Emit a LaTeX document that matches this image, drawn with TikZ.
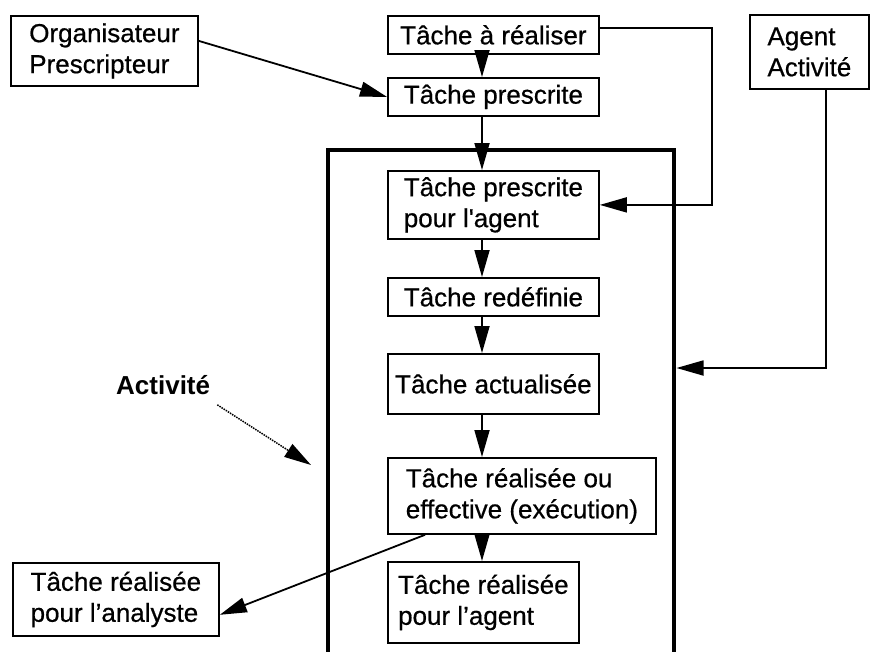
\documentclass[tikz,border=0pt]{standalone}
\usepackage{fontspec}
\setmainfont{Liberation Sans}
\newfontfamily\scanfont{Liberation Sans}[FakeBold=0.6]
\usetikzlibrary{arrows.meta,calc}
\begin{document}
\begin{tikzpicture}[x=1pt,y=1pt,
  txt/.style={font=\scanfont\fontsize{26}{31}\selectfont},
  box/.style={txt,draw,line width=1.8pt,anchor=north west,align=left,inner xsep=5pt,inner ysep=0pt},
  arr/.style={line width=1.8pt,-{Triangle[length=27pt,width=15pt]}},
  dotarr/.style={line width=1.5pt,densely dotted,-{Triangle[length=27pt,width=15pt]}},
  frame/.style={line width=4.5pt}
]
\useasboundingbox (0,0) rectangle (870,-651);
\fill[white] (0,0) rectangle (870,-651);

\node[box,minimum width=187pt,minimum height=70pt] (org) at (10,-15) {Organisateur\\Prescripteur};
\node[box,minimum width=211pt,minimum height=38pt] (tar) at (387,-15) {Tâche à réaliser};
\node[box,minimum width=211pt,minimum height=38pt] (tp) at (387,-77) {Tâche prescrite};
\node[box,minimum width=211pt,minimum height=68pt] (tpa) at (387,-170) {Tâche prescrite\\pour l\textquotesingle agent};
\node[box,minimum width=211pt,minimum height=38pt] (tr) at (387,-277) {Tâche redéfinie};
\node[box,minimum width=211pt,minimum height=60pt] (ta) at (387,-353) {Tâche actualisée};
\node[box,minimum width=268pt,minimum height=76pt] (tre) at (387,-457) {Tâche réalisée ou\\effective (exécution)};
\node[box,minimum width=191pt,minimum height=81pt] (trag) at (387,-561) {Tâche réalisée\\pour l’agent};
\node[box,minimum width=206pt,minimum height=73pt] (tran) at (12,-562) {Tâche réalisée\\pour l’analyste};
\node[box,minimum width=119pt,minimum height=74pt] (agent) at (749,-14) {Agent\\Activité};
\node[font=\fontsize{26}{31}\selectfont\bfseries,anchor=west,inner sep=0pt] (act) at (116,-385) {Activité};

% activity frame (open at the bottom)
\draw[frame] (328,-660) |- (674,-150) -- (674,-660);

\coordinate (ax) at (482,0);
\coordinate (c1) at (712,-28);
\coordinate (c2) at (826,0);
\coordinate (actR) at (676.5,-368);
\coordinate (actTip) at (311,-465);

\draw[arr] ($(org.east)+(0,10)$) -- (tp.west);
\draw[arr] (tar.south -| ax) -- (tp.north -| ax);
\draw[arr] (tp.south -| ax) -- (tpa.north -| ax);
\draw[arr] (tpa.south -| ax) -- (tr.north -| ax);
\draw[arr] (tr.south -| ax) -- (ta.north -| ax);
\draw[arr] (ta.south -| ax) -- (tre.north -| ax);
\draw[arr] (tre.south -| ax) -- (trag.north -| ax);
\draw[arr] (tar.east |- c1) -- (c1) |- (tpa.east);
\draw[arr] (agent.south -| c2) |- (actR);
\draw[arr] ($(tre.south west)+(38,0)$) -- ($(tran.south east)+(0,22)$);
\draw[dotarr] ($(act.south east)+(7,-10)$) -- (actTip);
\end{tikzpicture}
\end{document}
